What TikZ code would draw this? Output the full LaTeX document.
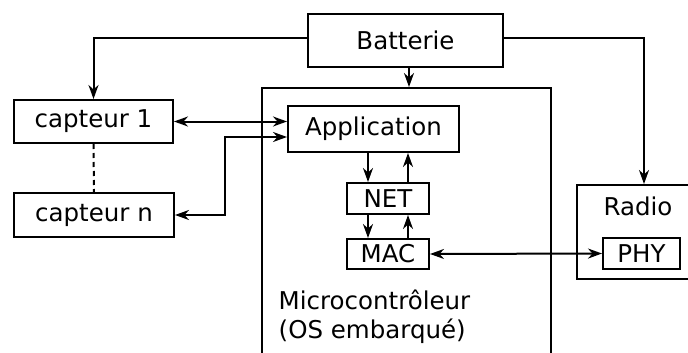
\documentclass[tikz,border=0pt]{standalone}
\usepackage{fontspec}
\setmainfont{DejaVu Sans}
\usetikzlibrary{arrows.meta}
\begin{document}
\begin{tikzpicture}[x=1pt,y=-1pt,
  every node/.style={font=\fontsize{24.5}{29}\selectfont},
  box/.style={draw,line width=2pt,inner sep=0pt,anchor=center},
  tip/.tip={Stealth[length=14pt,width=10pt,inset=4.5pt]},
  arr/.style={line width=2pt,-tip},
  darr/.style={line width=2pt,tip-tip},
  plain/.style={inner sep=0pt}]
\clip (0,0) rectangle (688,353);
\node[box,minimum width=195pt,minimum height=53pt] (bat) at (405.5,40.5) {Batterie};
\node[box,minimum width=289pt,minimum height=312pt] (mcu) at (406.5,244) {};
\node[box,minimum width=159pt,minimum height=43pt] (cap1) at (93.5,121.5) {capteur 1};
\node[box,minimum width=160pt,minimum height=44pt] (capn) at (94,215) {capteur n};
\node[box,minimum width=171pt,minimum height=46pt] (app) at (373.5,129) {Application};
\node[box,minimum width=82pt,minimum height=31pt] (net) at (388,198.5) {NET};
\node[box,minimum width=82pt,minimum height=30pt] (mac) at (388,254) {MAC};
\node[box,minimum width=123pt,minimum height=94pt] (radio) at (638.5,232) {};
\node[box,minimum width=77pt,minimum height=31pt] (phy) at (641.5,253.5) {PHY};
\node[plain,anchor=base] (radiolbl) at (638,215) {Radio};
\node[plain,anchor=base west] (mcul1) at (278.5,309) {Microcontrôleur};
\node[plain,anchor=base west] (mcul2) at (278.5,338) {(OS embarqué)};
\coordinate (xa) at (368,0);
\coordinate (xb) at (408,0);
\coordinate (xc) at (409,0);
\coordinate (xd) at (644,0);
\coordinate (bl) at (309,38);
\coordinate (br) at (503,38);
% battery connections
\draw[arr] (bl) -| (cap1.north);
\draw[arr] (br) -| (radio.north -| xd);
\draw[arr] (bat.south -| xc) -- (mcu.north -| xc);
% sensors
\draw[darr] (cap1.east) -- (cap1.east -| app.west);
\draw[darr] (capn.east) -- ++(50,0) |- ([yshift=-8pt]app.west);
\draw[line width=2pt,dash pattern=on 5pt off 4pt] (cap1.south) -- (capn.north);
% stack
\draw[arr] (app.south -| xa) -- (net.north -| xa);
\draw[arr] (net.north -| xb) -- (app.south -| xb);
\draw[arr] (net.south -| xa) -- (mac.north -| xa);
\draw[arr] (mac.north -| xb) -- (net.south -| xb);
\draw[darr] (mac.east) -- (phy.west);
\end{tikzpicture}
\end{document}
